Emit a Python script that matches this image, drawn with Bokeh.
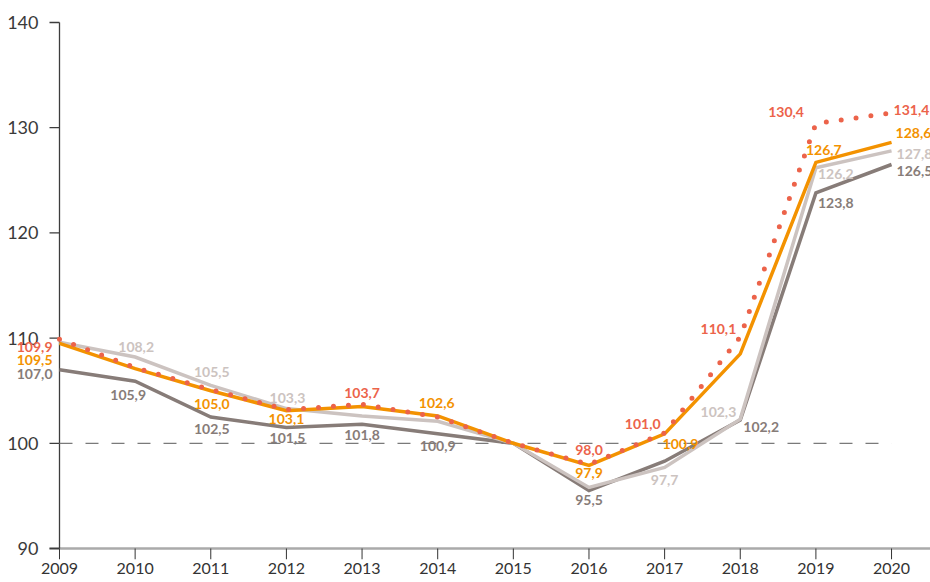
import math
from bokeh.plotting import figure
from bokeh.models import ColumnDataSource, Range1d, FixedTicker
from bokeh.core.properties import value
from bokeh.embed import file_html
from bokeh.resources import INLINE

# ---------------- data ----------------
years = [2009, 2010, 2011, 2012, 2013, 2014, 2015, 2016, 2017, 2018, 2019, 2020]
red_dotted = [109.9, 107.2, 105.1, 103.2, 103.7, 102.5, 100.0, 98.0, 101.0, 110.1, 130.4, 131.4]
orange = [109.5, 107.1, 105.0, 103.1, 103.5, 102.6, 100.0, 97.9, 100.9, 108.5, 126.7, 128.6]
light_grey = [109.6, 108.2, 105.5, 103.3, 102.6, 102.1, 100.0, 95.8, 97.7, 102.3, 126.2, 127.8]
dark_grey = [107.0, 105.9, 102.5, 101.5, 101.8, 100.9, 100.0, 95.5, 98.3, 102.2, 123.8, 126.5]
y_ticks = [90, 100, 110, 120, 130, 140]
baseline = 100

# which points carry a value label
red_labelled = [2009, 2013, 2016, 2017, 2018, 2019, 2020]
orange_labelled = [2009, 2011, 2012, 2014, 2016, 2017, 2019, 2020]
light_labelled = [2010, 2011, 2012, 2017, 2018, 2019, 2020]
dark_labelled = [2009, 2010, 2011, 2012, 2013, 2014, 2016, 2018, 2019, 2020]

# ---------------- styles ----------------
C_RED = "#EC634A"
C_ORANGE = "#F39200"
C_LIGHT = "#CCC3C0"
C_DARK = "#877C78"
C_AXIS = "#3d3d3d"
FONT = "Lato"

series = {
    "red": (red_dotted, C_RED),
    "orange": (orange, C_ORANGE),
    "light": (light_grey, C_LIGHT),
    "dark": (dark_grey, C_DARK),
}

# label placement (screen px offset, + = down; alignment) per (series, year)
placement = {
    ("red", 2009): (-7, 8, "right"),
    ("orange", 2009): (-7, 17, "right"),
    ("dark", 2009): (-7, 4, "right"),
    ("light", 2010): (1, -10, "center"),
    ("dark", 2010): (-7, 14, "center"),
    ("light", 2011): (1, -13, "center"),
    ("orange", 2011): (1, 13, "center"),
    ("dark", 2011): (1, 12, "center"),
    ("light", 2012): (1, -11, "center"),
    ("orange", 2012): (0, 8, "center"),
    ("dark", 2012): (1, 10, "center"),
    ("red", 2013): (0, -11, "center"),
    ("dark", 2013): (0, 11, "center"),
    ("orange", 2014): (-1, -13, "center"),
    ("dark", 2014): (0, 12, "center"),
    ("red", 2016): (0, -14, "center"),
    ("orange", 2016): (0, 8, "center"),
    ("dark", 2016): (0, 9, "center"),
    ("red", 2017): (-4, -9, "right"),
    ("orange", 2017): (-2, 10, "left"),
    ("light", 2017): (0, 13, "center"),
    ("light", 2018): (-4, -7, "right"),
    ("dark", 2018): (3, 7, "left"),
    ("red", 2018): (-4, -8, "right"),
    ("red", 2019): (-12, -11, "right"),
    ("orange", 2019): (-10, -12, "left"),
    ("light", 2019): (2, 6, "left"),
    ("dark", 2019): (2, 10, "left"),
    ("red", 2020): (2, -3, "left"),
    ("orange", 2020): (4, -9, "left"),
    ("light", 2020): (5, 3, "left"),
    ("dark", 2020): (5, 6, "left"),
}

labelled = {"red": red_labelled, "orange": orange_labelled,
            "light": light_labelled, "dark": dark_labelled}

lab = dict(x=[], y=[], text=[], color=[], dx=[], dy=[], align=[])
for key in ["dark", "light", "orange", "red"]:
    vals, col = series[key]
    for yr in labelled[key]:
        v = vals[years.index(yr)]
        dx, dy, al = placement[(key, yr)]
        lab["x"].append(yr)
        lab["y"].append(v)
        lab["text"].append(f"{v:.1f}".replace(".", ","))
        lab["color"].append(col)
        lab["dx"].append(dx)
        lab["dy"].append(dy)
        lab["align"].append(al)

# ---------------- figure ----------------
# the frame covers the whole figure so labels left of 2009 and the "90" tick label
# are not clipped; the y axis and the x axis line/ticks are drawn by hand.
p = figure(width=930, height=582, output_backend="svg", toolbar_location=None,
           x_range=Range1d(2008.22, 2020.515), y_range=Range1d(88.955, 142.09),
           y_axis_location=None,
           min_border_left=0, min_border_right=0, min_border_top=0,
           min_border_bottom=23)
p.outline_line_color = None
p.grid.visible = False
p.background_fill_color = "white"
p.border_fill_color = "white"

# x axis base line (grey, thick) and ticks
p.ray(x=[years[0]], y=[y_ticks[0]], length=0, angle=0, line_color="#aaaaaa",
      line_width=2.5)
p.ray(x=[years[0]], y=[y_ticks[0]], length=10, length_units="screen",
      angle=math.pi, line_color="#aaaaaa", line_width=2.5)
p.ray(x=years, y=[y_ticks[0]] * len(years), length=11, length_units="screen",
      angle=-math.pi / 2, line_color="#333333", line_width=1)

# hand-made y axis
p.segment(x0=[years[0]], y0=[y_ticks[0]], x1=[years[0]], y1=[y_ticks[-1]],
          line_color=C_AXIS, line_width=1.3)
p.ray(x=[years[0]] * len(y_ticks), y=y_ticks, length=10, length_units="screen",
      angle=math.pi, line_color=C_AXIS, line_width=1.3)
p.text(x=[years[0]] * len(y_ticks), y=y_ticks, text=[str(t) for t in y_ticks],
       x_offset=-21, text_align="right", text_baseline="middle",
       text_font=value(FONT), text_font_size="18px", text_color="#3a3a3a")

# baseline 100 dashed
p.line([years[0], years[-1]], [baseline, baseline], line_color="#7a7a7a",
       line_width=1.3, line_dash="13 13")

p.line(years, dark_grey, line_color=C_DARK, line_width=3.5, line_join="miter")
p.line(years, light_grey, line_color=C_LIGHT, line_width=3.5, line_join="miter")
p.line(years, orange, line_color=C_ORANGE, line_width=3.5, line_join="miter")
p.line(years, red_dotted, line_color=C_RED, line_width=5, line_dash="0 15",
       line_cap="round")

src = ColumnDataSource(lab)
p.text(x="x", y="y", text="text", source=src, text_color="color",
       x_offset="dx", y_offset="dy", text_align="align",
       text_baseline="middle", text_font=value(FONT), text_font_style="bold",
       text_font_size="14px")

# x axis (labels only; line and ticks drawn above)
xa = p.xaxis[0]
xa.ticker = FixedTicker(ticks=years)
xa.axis_line_color = None
xa.major_tick_line_color = None
xa.major_tick_out = 0
xa.major_tick_in = 0
xa.minor_tick_line_color = None
xa.major_label_text_font = FONT
xa.major_label_text_font_size = "16px"
xa.major_label_text_color = "#333333"
xa.major_label_standoff = 3

open("out.html", "w").write(file_html(p, INLINE))
